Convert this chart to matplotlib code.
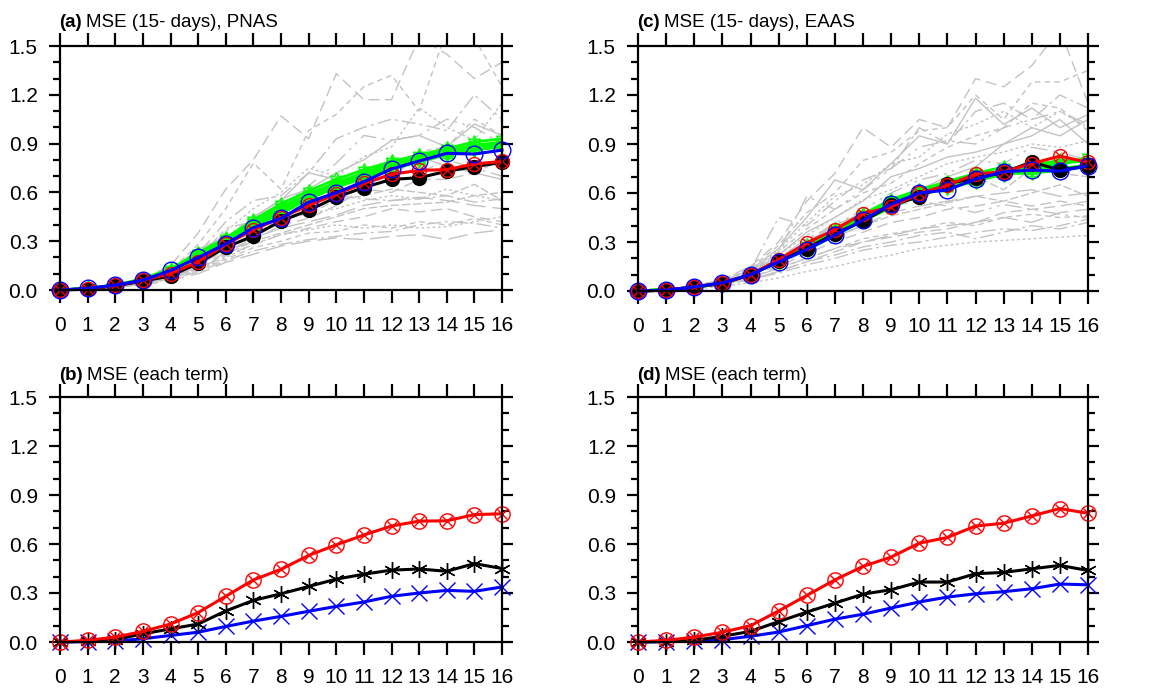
import numpy as np
import matplotlib
matplotlib.use("Agg")
import matplotlib.pyplot as plt
from matplotlib.ticker import MultipleLocator, FormatStrFormatter

plt.rcParams['font.family'] = ['Liberation Sans', 'DejaVu Sans']

days = list(range(17))

# ---- panel (a) PNAS ----
a_black = [0, 0.005, 0.025, 0.055, 0.086, 0.165, 0.262, 0.332, 0.424, 0.49, 0.57, 0.63, 0.68, 0.69, 0.73, 0.758, 0.785]
a_red = [0, 0.008, 0.028, 0.06, 0.10, 0.174, 0.28, 0.37, 0.445, 0.52, 0.59, 0.655, 0.712, 0.735, 0.74, 0.775, 0.79]
a_blue = [0, 0.01, 0.03, 0.06, 0.12, 0.20, 0.283, 0.383, 0.44, 0.54, 0.598, 0.666, 0.744, 0.793, 0.84, 0.836, 0.86]
a_green = [
    [0, 0.01, 0.03, 0.06, 0.12, 0.21, 0.30, 0.40, 0.49, 0.57, 0.64, 0.70, 0.75, 0.80, 0.84, 0.86, 0.89],
    [0, 0.01, 0.03, 0.06, 0.12, 0.22, 0.31, 0.42, 0.51, 0.59, 0.66, 0.72, 0.78, 0.82, 0.86, 0.89, 0.91],
    [0, 0.01, 0.03, 0.06, 0.11, 0.20, 0.29, 0.39, 0.47, 0.56, 0.63, 0.69, 0.74, 0.79, 0.83, 0.86, 0.88],
    [0, 0.01, 0.03, 0.07, 0.13, 0.23, 0.32, 0.43, 0.53, 0.61, 0.68, 0.74, 0.79, 0.83, 0.87, 0.91, 0.93],
    [0, 0.01, 0.03, 0.06, 0.12, 0.21, 0.30, 0.40, 0.50, 0.58, 0.65, 0.71, 0.77, 0.81, 0.85, 0.88, 0.90],
]
a_grey = [
    [0, 0.01, 0.03, 0.07, 0.15, 0.35, 0.62, 0.80, 1.07, 0.93, 1.33, 1.17, 1.17, 1.55, 1.45, 1.30, 1.40],
    [0, 0.01, 0.03, 0.06, 0.12, 0.28, 0.50, 0.78, 0.62, 0.98, 1.08, 1.25, 1.32, 1.10, 1.60, 1.55, 1.25],
    [0, 0.01, 0.02, 0.05, 0.11, 0.22, 0.42, 0.55, 0.58, 0.72, 0.93, 1.00, 1.05, 1.02, 0.98, 1.20, 1.05],
    [0, 0.01, 0.02, 0.05, 0.10, 0.20, 0.36, 0.50, 0.60, 0.75, 0.70, 0.82, 0.88, 1.12, 1.00, 0.92, 1.15],
    [0, 0.01, 0.02, 0.05, 0.10, 0.18, 0.30, 0.44, 0.56, 0.62, 0.72, 0.80, 0.92, 0.95, 0.88, 1.02, 0.95],
    [0, 0.01, 0.02, 0.05, 0.09, 0.17, 0.28, 0.40, 0.48, 0.55, 0.60, 0.68, 0.78, 0.72, 0.80, 0.75, 0.70],
    [0, 0.01, 0.02, 0.04, 0.09, 0.15, 0.25, 0.35, 0.43, 0.47, 0.55, 0.58, 0.62, 0.60, 0.58, 0.65, 0.55],
    [0, 0.01, 0.02, 0.04, 0.08, 0.14, 0.23, 0.32, 0.38, 0.42, 0.46, 0.52, 0.55, 0.57, 0.55, 0.52, 0.50],
    [0, 0.01, 0.02, 0.04, 0.08, 0.13, 0.21, 0.28, 0.34, 0.38, 0.42, 0.45, 0.50, 0.48, 0.50, 0.45, 0.42],
    [0, 0.01, 0.02, 0.04, 0.07, 0.12, 0.19, 0.26, 0.30, 0.35, 0.36, 0.40, 0.38, 0.42, 0.40, 0.44, 0.40],
    [0, 0.01, 0.02, 0.03, 0.07, 0.11, 0.18, 0.24, 0.28, 0.31, 0.33, 0.35, 0.36, 0.40, 0.42, 0.41, 0.38],
    [0, 0.01, 0.02, 0.04, 0.08, 0.15, 0.30, 0.36, 0.45, 0.47, 0.50, 0.55, 0.58, 0.56, 0.62, 0.58, 0.55],
    [0, 0.01, 0.02, 0.04, 0.08, 0.14, 0.27, 0.45, 0.55, 0.72, 0.68, 0.65, 0.70, 0.82, 0.76, 0.72, 0.68],
    [0, 0.01, 0.02, 0.05, 0.10, 0.19, 0.38, 0.42, 0.52, 0.64, 0.78, 0.95, 0.92, 0.95, 1.05, 1.00, 0.90],
    [0, 0.01, 0.02, 0.04, 0.08, 0.13, 0.22, 0.30, 0.35, 0.40, 0.45, 0.50, 0.52, 0.53, 0.54, 0.58, 0.60],
    [0, 0.01, 0.02, 0.03, 0.06, 0.10, 0.17, 0.22, 0.27, 0.30, 0.32, 0.31, 0.33, 0.34, 0.31, 0.35, 0.37],
    [0, 0.01, 0.02, 0.04, 0.09, 0.16, 0.24, 0.30, 0.40, 0.44, 0.52, 0.62, 0.60, 0.68, 0.68, 0.72, 0.80],
    [0, 0.01, 0.02, 0.05, 0.10, 0.20, 0.32, 0.45, 0.52, 0.60, 0.64, 0.70, 0.76, 0.85, 0.88, 1.05, 0.95],
    [0, 0.01, 0.03, 0.06, 0.12, 0.25, 0.33, 0.40, 0.48, 0.52, 0.58, 0.56, 0.55, 0.56, 0.58, 0.54, 0.56],
    [0, 0.01, 0.02, 0.04, 0.07, 0.12, 0.20, 0.28, 0.34, 0.37, 0.40, 0.38, 0.40, 0.38, 0.39, 0.42, 0.45],
]

# ---- panel (c) EAAS ----
c_black = [0, 0.005, 0.025, 0.045, 0.10, 0.182, 0.26, 0.352, 0.427, 0.525, 0.577, 0.658, 0.69, 0.726, 0.79, 0.74, 0.767]
c_red = [0, 0.005, 0.025, 0.05, 0.10, 0.192, 0.294, 0.376, 0.474, 0.515, 0.597, 0.648, 0.716, 0.73, 0.78, 0.826, 0.787]
c_blue = [0, 0.005, 0.025, 0.05, 0.10, 0.178, 0.254, 0.342, 0.434, 0.532, 0.60, 0.618, 0.685, 0.73, 0.74, 0.734, 0.767]
c_green = [
    [0, 0.01, 0.02, 0.05, 0.10, 0.18, 0.27, 0.36, 0.45, 0.54, 0.60, 0.65, 0.70, 0.74, 0.76, 0.78, 0.80],
    [0, 0.01, 0.02, 0.05, 0.10, 0.19, 0.28, 0.38, 0.47, 0.56, 0.62, 0.67, 0.72, 0.76, 0.74, 0.77, 0.82],
    [0, 0.01, 0.02, 0.05, 0.10, 0.18, 0.26, 0.35, 0.44, 0.52, 0.58, 0.64, 0.68, 0.71, 0.75, 0.75, 0.77],
    [0, 0.01, 0.02, 0.05, 0.10, 0.19, 0.27, 0.37, 0.46, 0.55, 0.61, 0.66, 0.71, 0.73, 0.77, 0.80, 0.79],
    [0, 0.01, 0.02, 0.05, 0.10, 0.18, 0.25, 0.34, 0.43, 0.51, 0.59, 0.63, 0.67, 0.72, 0.72, 0.74, 0.76],
]
c_grey = [
    [0, 0.01, 0.03, 0.07, 0.15, 0.30, 0.55, 0.72, 1.00, 0.88, 1.05, 1.00, 1.30, 1.25, 1.38, 1.60, 1.15],
    [0, 0.01, 0.03, 0.07, 0.14, 0.28, 0.48, 0.60, 0.80, 0.85, 0.98, 1.00, 1.20, 1.05, 1.28, 1.28, 1.35],
    [0, 0.01, 0.03, 0.06, 0.13, 0.45, 0.40, 0.55, 0.68, 0.75, 1.00, 0.90, 1.10, 1.15, 1.05, 1.20, 1.12],
    [0, 0.01, 0.02, 0.06, 0.12, 0.25, 0.42, 0.58, 0.65, 0.78, 0.82, 0.96, 1.02, 1.10, 1.00, 1.10, 1.00],
    [0, 0.01, 0.02, 0.05, 0.11, 0.22, 0.36, 0.45, 0.55, 0.70, 0.75, 0.82, 0.85, 0.90, 0.95, 1.05, 0.90],
    [0, 0.01, 0.02, 0.05, 0.10, 0.20, 0.32, 0.40, 0.50, 0.60, 0.68, 0.72, 0.80, 0.78, 0.88, 0.85, 0.80],
    [0, 0.01, 0.02, 0.05, 0.09, 0.18, 0.28, 0.38, 0.45, 0.52, 0.60, 0.68, 0.70, 0.62, 0.75, 0.72, 0.70],
    [0, 0.01, 0.02, 0.04, 0.09, 0.16, 0.25, 0.33, 0.40, 0.48, 0.52, 0.55, 0.58, 0.60, 0.62, 0.58, 0.60],
    [0, 0.01, 0.02, 0.04, 0.08, 0.15, 0.23, 0.30, 0.36, 0.42, 0.45, 0.50, 0.52, 0.55, 0.52, 0.55, 0.52],
    [0, 0.01, 0.02, 0.04, 0.08, 0.14, 0.20, 0.26, 0.32, 0.35, 0.38, 0.42, 0.40, 0.45, 0.47, 0.45, 0.46],
    [0, 0.01, 0.02, 0.04, 0.07, 0.12, 0.18, 0.22, 0.27, 0.30, 0.34, 0.36, 0.32, 0.36, 0.40, 0.38, 0.42],
    [0, 0.005, 0.01, 0.03, 0.05, 0.08, 0.12, 0.15, 0.19, 0.22, 0.26, 0.28, 0.30, 0.31, 0.32, 0.33, 0.34],
    [0, 0.01, 0.02, 0.05, 0.10, 0.20, 0.30, 0.40, 0.48, 0.55, 0.62, 0.70, 0.76, 0.90, 1.00, 0.95, 1.05],
    [0, 0.01, 0.03, 0.06, 0.12, 0.24, 0.58, 0.50, 0.62, 0.75, 0.88, 0.92, 0.90, 1.00, 1.05, 1.10, 1.02],
    [0, 0.01, 0.02, 0.05, 0.10, 0.18, 0.26, 0.34, 0.40, 0.46, 0.50, 0.54, 0.58, 0.55, 0.60, 0.65, 0.58],
    [0, 0.01, 0.02, 0.04, 0.08, 0.14, 0.20, 0.26, 0.30, 0.34, 0.38, 0.40, 0.42, 0.45, 0.42, 0.48, 0.50],
    [0, 0.01, 0.02, 0.04, 0.07, 0.12, 0.18, 0.24, 0.30, 0.33, 0.36, 0.38, 0.42, 0.48, 0.50, 0.52, 0.55],
    [0, 0.01, 0.02, 0.05, 0.11, 0.24, 0.38, 0.50, 0.60, 0.66, 0.78, 0.88, 0.95, 1.00, 1.15, 1.12, 0.98],
    [0, 0.01, 0.02, 0.04, 0.07, 0.11, 0.16, 0.20, 0.25, 0.28, 0.30, 0.33, 0.36, 0.38, 0.37, 0.40, 0.44],
    [0, 0.01, 0.02, 0.05, 0.10, 0.22, 0.34, 0.45, 0.56, 0.62, 0.70, 0.78, 0.82, 0.85, 0.90, 0.88, 0.92],
    [0, 0.01, 0.03, 0.06, 0.13, 0.26, 0.45, 0.68, 0.62, 0.78, 0.95, 0.90, 1.18, 1.02, 1.12, 1.00, 1.08],
    [0, 0.01, 0.02, 0.05, 0.10, 0.19, 0.30, 0.42, 0.47, 0.52, 0.55, 0.52, 0.48, 0.53, 0.50, 0.47, 0.45],
]

# ---- panels (b), (d): each term ----
b_red = [0, 0.01, 0.03, 0.065, 0.11, 0.18, 0.28, 0.38, 0.445, 0.53, 0.595, 0.655, 0.71, 0.74, 0.742, 0.78, 0.785]
b_black = [0, 0.005, 0.015, 0.05, 0.08, 0.11, 0.19, 0.255, 0.295, 0.34, 0.385, 0.415, 0.44, 0.447, 0.433, 0.48, 0.45]
b_blue = [0, 0.002, 0.005, 0.02, 0.04, 0.06, 0.095, 0.128, 0.157, 0.188, 0.218, 0.245, 0.28, 0.30, 0.316, 0.31, 0.337]
d_red = [0, 0.01, 0.03, 0.06, 0.10, 0.19, 0.285, 0.38, 0.463, 0.52, 0.605, 0.64, 0.71, 0.727, 0.772, 0.817, 0.788]
d_black = [0, 0.003, 0.01, 0.035, 0.065, 0.125, 0.183, 0.238, 0.293, 0.32, 0.367, 0.367, 0.418, 0.426, 0.448, 0.469, 0.438]
d_blue = [0, 0.002, 0.005, 0.014, 0.035, 0.061, 0.10, 0.14, 0.17, 0.208, 0.245, 0.275, 0.295, 0.308, 0.326, 0.355, 0.35]

grey_styles = [(0, (8, 4)), (0, (4, 3)), (0, (10, 3, 2, 3)), (0, (2, 2)), '-',
               (0, (12, 4, 2, 4, 2, 4)), (0, (6, 2)), (0, (14, 5))]

W, H = 1149, 691
fig = plt.figure(figsize=(W / 100, H / 100), dpi=100)


def make_ax(left, top, right, bottom):
    ax = fig.add_axes([left / W, 1 - bottom / H, (right - left) / W, (bottom - top) / H])
    ax.set_xlim(0, 16)
    ax.set_ylim(0, 1.5)
    ax.set_xticks(days)
    ax.yaxis.set_major_locator(MultipleLocator(0.3))
    ax.yaxis.set_minor_locator(MultipleLocator(0.1))
    ax.yaxis.set_major_formatter(FormatStrFormatter('%.1f'))
    ax.tick_params(which='both', direction='out', top=True, right=True, width=1.6)
    ax.tick_params(which='major', length=8, labelsize=15)
    ax.tick_params(axis='x', which='major', length=9.5, pad=9)
    ax.tick_params(axis='y', which='major', pad=8)
    ax.tick_params(which='minor', length=5)
    for s in ax.spines.values():
        s.set_linewidth(1.6)
    return ax


def title(ax, tag, txt, x, y):
    t = fig.text(x / W, 1 - y / H, tag, fontsize=13.5, fontweight='bold', va='baseline')
    r = fig.canvas.get_renderer()
    bb = t.get_window_extent(r)
    fig.text(bb.x1 / W + 4 / W, 1 - y / H, txt, fontsize=13.5, va='baseline')


def top_panel(ax, greys, greens, black, red, blue):
    for i, g in enumerate(greys):
        ax.plot(days, g, color='#c3c3c3', lw=1.0, ls=grey_styles[i % len(grey_styles)])
    for g in greens:
        ax.plot(days, g, color='#00ff00', lw=2.0, marker=(6, 1, 0), ms=10, mfc='none', mec='#00ff00', mew=1.0)
    ax.plot(days, black, color='black', lw=2.2, marker='o', ms=10, clip_on=False)
    ax.plot(days, red, color='red', lw=2.2, marker='o', ms=10, mfc='none', mew=1.0, clip_on=False)
    ax.plot(days, red, ls='none', color='red', marker='x', ms=7, mew=1.0, clip_on=False)
    ax.plot(days, blue, color='blue', lw=2.2, marker='o', ms=12, mfc='none', mew=1.0, clip_on=False)


def bottom_panel(ax, red, black, blue):
    ax.plot(days, blue, color='blue', lw=2.2, marker='x', ms=11, mew=1.0, clip_on=False)
    ax.plot(days, black, color='black', lw=2.2, marker=(6, 2, 0), ms=12, mew=1.0, clip_on=False)
    ax.plot(days, red, color='red', lw=2.2, marker='o', ms=11, mfc='none', mew=1.0, clip_on=False)
    ax.plot(days, red, ls='none', color='red', marker='x', ms=7.5, mew=1.0, clip_on=False)


ax_a = make_ax(60, 46, 502, 290)
top_panel(ax_a, a_grey, a_green, a_black, a_red, a_blue)
title(ax_a, '(a)', 'MSE (15- days), PNAS', 59, 27)

ax_c = make_ax(638, 46, 1088, 291)
top_panel(ax_c, c_grey, c_green, c_black, c_red, c_blue)
title(ax_c, '(c)', 'MSE (15- days), EAAS', 637, 27)

ax_b = make_ax(60, 397, 502, 642)
bottom_panel(ax_b, b_red, b_black, b_blue)
title(ax_b, '(b)', 'MSE (each term)', 59, 380)

ax_d = make_ax(638, 397, 1088, 642)
bottom_panel(ax_d, d_red, d_black, d_blue)
title(ax_d, '(d)', 'MSE (each term)', 637, 380)

fig.savefig('out.png', dpi=100)
